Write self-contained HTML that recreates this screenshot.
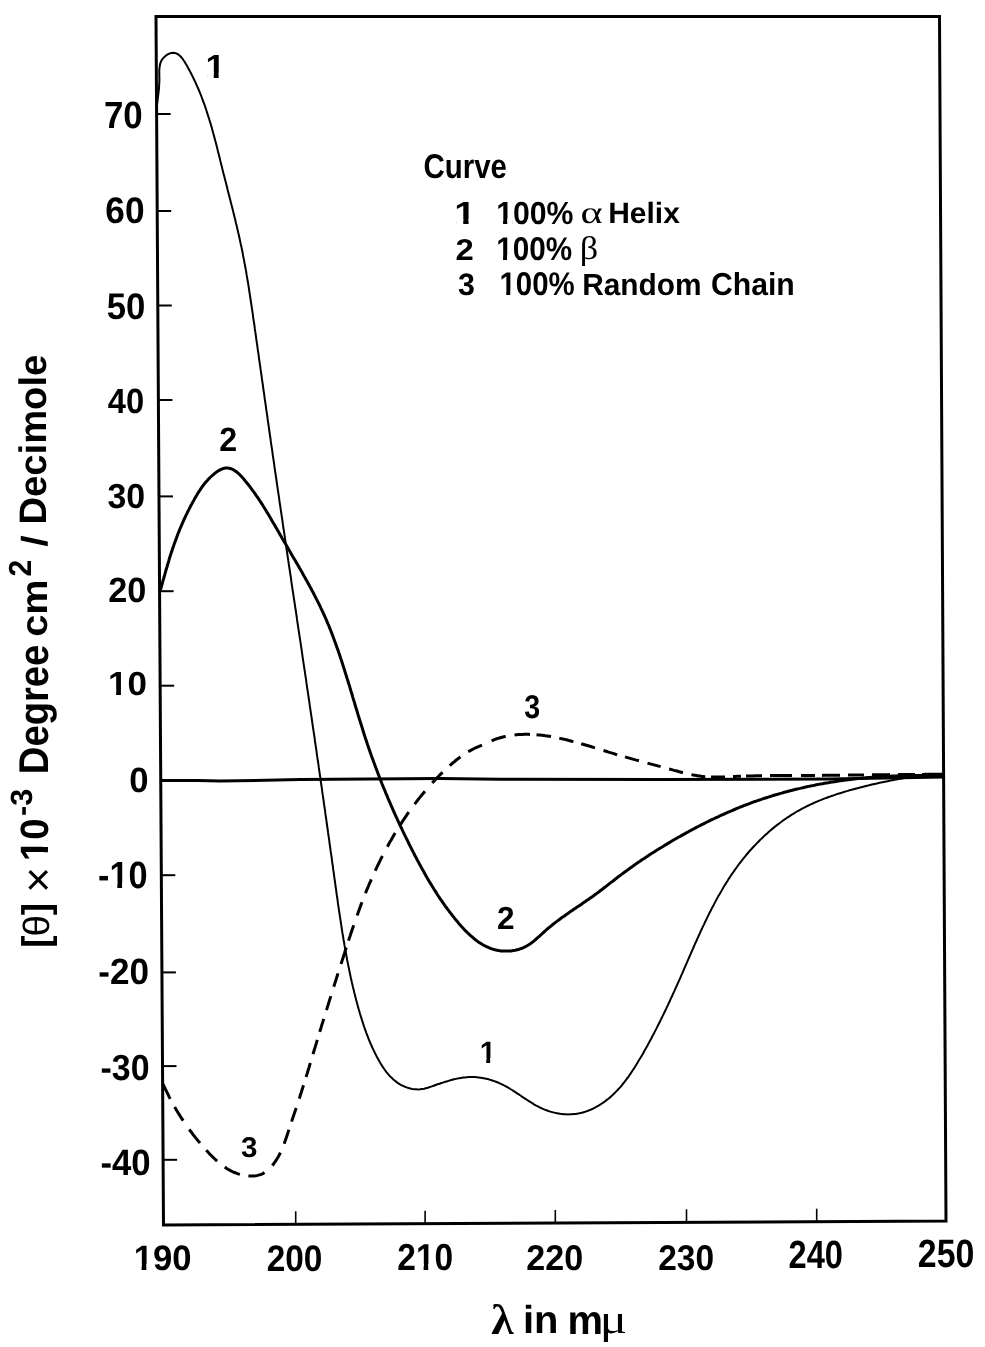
<!DOCTYPE html>
<html><head><meta charset="utf-8"><style>
html,body{margin:0;padding:0;background:#fff;}
svg{display:block;filter:grayscale(1);}
</style></head><body>
<svg style="font-kerning:none;text-rendering:geometricPrecision" width="985" height="1347" viewBox="0 0 985 1347">
<rect width="985" height="1347" fill="#fff"/>
<path d="M156,16.5 L939.5,16.5 L946,1221 L163.5,1225 Z" fill="none" stroke="#000" stroke-width="3" stroke-linejoin="miter"/>
<path d="M160,780.5 L198,780.5 L220,781.1 L300,779.6 L440,778.6 L500,779.3 L660,779.5 L830,779.1 L944,777" fill="none" stroke="#000" stroke-width="3" stroke-linejoin="round"/>
<path d="M156.6,114 L170.6,114" stroke="#000" stroke-width="2"/>
<path d="M157.2,211 L171.2,211" stroke="#000" stroke-width="2"/>
<path d="M157.8,305.5 L171.8,305.5" stroke="#000" stroke-width="2"/>
<path d="M158.4,400 L172.4,400" stroke="#000" stroke-width="2"/>
<path d="M159.0,496.4 L173.0,496.4" stroke="#000" stroke-width="2"/>
<path d="M159.6,591.2 L173.6,591.2" stroke="#000" stroke-width="2"/>
<path d="M160.2,685.7 L174.2,685.7" stroke="#000" stroke-width="2"/>
<path d="M161.3,875.2 L175.3,875.2" stroke="#000" stroke-width="2"/>
<path d="M161.9,972.4 L175.9,972.4" stroke="#000" stroke-width="2"/>
<path d="M162.5,1066.1 L176.5,1066.1" stroke="#000" stroke-width="2"/>
<path d="M163.1,1159.8 L177.1,1159.8" stroke="#000" stroke-width="2"/>
<path d="M295.7,1224.3 L295.7,1211.3" stroke="#000" stroke-width="1.6"/>
<path d="M425.1,1223.7 L425.1,1210.7" stroke="#000" stroke-width="1.6"/>
<path d="M555.3,1223.0 L555.3,1210.0" stroke="#000" stroke-width="1.6"/>
<path d="M686.5,1222.3 L686.5,1209.3" stroke="#000" stroke-width="1.6"/>
<path d="M816.7,1221.7 L816.7,1208.7" stroke="#000" stroke-width="1.6"/>
<path d="M157.1,104.0L157.4,101.9L157.6,99.8L157.9,97.8L158.1,95.9L158.4,93.9L158.6,92.0L158.8,90.1L159.0,88.2L159.1,86.3L159.2,84.3L159.3,82.4L159.4,80.4L159.4,78.3L159.3,76.2L159.3,74.1L159.3,72.0L159.3,69.9L159.5,67.8L159.8,65.7L160.2,63.7L160.9,61.8L161.8,60.0L163.0,58.4L164.4,56.9L166.0,55.5L167.7,54.4L169.4,53.6L171.1,53.0L172.8,52.8L174.4,52.9L176.0,53.3L177.4,53.9L178.8,54.9L180.1,56.0L181.4,57.3L182.6,58.8L183.7,60.5L184.9,62.2L185.9,64.0L187.0,65.8L188.0,67.7L189.0,69.5L190.0,71.4L191.0,73.2L191.9,75.1L192.8,76.9L193.7,78.8L194.6,80.6L195.5,82.5L196.3,84.4L197.2,86.3L198.0,88.1L198.8,90.0L199.6,91.9L200.3,93.7L201.1,95.6L201.8,97.5L202.5,99.4L203.2,101.3L203.9,103.2L204.6,105.0L205.2,106.9L205.9,108.8L206.5,110.7L207.1,112.6L207.7,114.5L208.3,116.4L208.9,118.3L209.5,120.2L210.1,122.1L210.7,124.0L211.2,125.9L211.8,127.8L212.3,129.7L212.8,131.6L213.3,133.5L213.9,135.4L214.4,137.4L214.9,139.3L215.4,141.2L215.9,143.1L216.4,145.0L216.9,146.9L217.4,148.8L217.8,150.8L218.3,152.7L218.8,154.6L219.3,156.5L219.8,158.5L220.2,160.4L220.7,162.3L221.2,164.2L221.7,166.2L222.2,168.1L222.6,170.0L223.1,172.0L223.6,173.9L224.1,175.8L224.6,177.7L225.1,179.7L225.6,181.6L226.1,183.5L226.6,185.5L227.1,187.4L227.5,189.4L228.0,191.3L228.5,193.2L229.0,195.2L229.5,197.1L230.0,199.1L230.5,201.0L231.0,202.9L231.5,204.9L232.0,206.8L232.5,208.8L233.0,210.7L233.5,212.7L233.9,214.6L234.4,216.6L234.9,218.5L235.4,220.5L235.8,222.4L236.3,224.4L236.8,226.3L237.2,228.3L237.7,230.2L238.1,232.2L238.6,234.1L239.0,236.1L239.5,238.0L239.9,240.0L240.3,242.0L240.7,243.9L241.2,245.9L241.6,247.8L242.0,249.8L242.4,251.8L242.8,253.7L243.1,255.7L243.5,257.6L243.9,259.6L244.3,261.6L244.6,263.5L245.0,265.5L245.4,267.5L245.7,269.4L246.1,271.4L246.4,273.4L246.7,275.4L247.1,277.3L247.4,279.3L247.7,281.3L248.1,283.2L248.4,285.2L248.7,287.2L249.0,289.2L249.3,291.1L249.6,293.1L249.9,295.1L250.2,297.0L250.5,299.0L250.8,301.0L251.1,303.0L251.4,304.9L251.7,306.9L252.0,308.9L252.3,310.9L252.6,312.9L252.9,314.8L253.1,316.8L253.4,318.8L253.7,320.8L254.0,322.7L254.3,324.7L254.6,326.7L254.8,328.7L255.1,330.6L255.4,332.6L255.7,334.6L256.0,336.6L256.2,338.6L256.5,340.5L256.8,342.5L257.1,344.5L257.4,346.5L257.6,348.4L257.9,350.4L258.2,352.4L258.5,354.4L258.8,356.4L259.0,358.3L259.3,360.3L259.6,362.3L259.9,364.3L260.2,366.2L260.4,368.2L260.7,370.2L261.0,372.2L261.3,374.2L261.6,376.1L261.8,378.1L262.1,380.1L262.4,382.1L262.7,384.0L263.0,386.0L263.2,388.0L263.5,390.0L263.8,392.0L264.1,393.9L264.4,395.9L264.6,397.9L264.9,399.9L265.2,401.9L265.5,403.8L265.8,405.8L266.0,407.8L266.3,409.8L266.6,411.7L266.9,413.7L267.2,415.7L267.5,417.7L267.7,419.7L268.0,421.6L268.3,423.6L268.6,425.6L268.9,427.6L269.1,429.5L269.4,431.5L269.7,433.5L270.0,435.5L270.3,437.5L270.6,439.4L270.8,441.4L271.1,443.4L271.4,445.4L271.7,447.3L272.0,449.3L272.3,451.3L272.6,453.3L272.8,455.3L273.1,457.2L273.4,459.2L273.7,461.2L274.0,463.2L274.3,465.2L274.5,467.1L274.8,469.1L275.1,471.1L275.4,473.1L275.7,475.0L276.0,477.0L276.3,479.0L276.6,481.0L276.8,483.0L277.1,484.9L277.4,486.9L277.7,488.9L278.0,490.9L278.3,492.8L278.6,494.8L278.9,496.8L279.2,498.8L279.4,500.8L279.7,502.7L280.0,504.7L280.3,506.7L280.6,508.7L280.9,510.7L281.2,512.6L281.5,514.6L281.8,516.6L282.1,518.6L282.4,520.5L282.6,522.5L282.9,524.5L283.2,526.5L283.5,528.5L283.8,530.4L284.1,532.4L284.4,534.4L284.7,536.4L285.0,538.3L285.3,540.3L285.6,542.3L285.9,544.3L286.2,546.3L286.4,548.2L286.7,550.2L287.0,552.2L287.3,554.2L287.6,556.2L287.9,558.1L288.2,560.1L288.5,562.1L288.8,564.1L289.1,566.0L289.4,568.0L289.7,570.0L290.0,572.0L290.3,574.0L290.6,575.9L290.9,577.9L291.2,579.9L291.4,581.9L291.7,583.8L292.0,585.8L292.3,587.8L292.6,589.8L292.9,591.8L293.2,593.7L293.5,595.7L293.8,597.7L294.1,599.7L294.4,601.6L294.7,603.6L295.0,605.6L295.3,607.6L295.6,609.5L295.9,611.5L296.2,613.5L296.5,615.5L296.8,617.5L297.0,619.4L297.3,621.4L297.6,623.4L297.9,625.4L298.2,627.3L298.5,629.3L298.8,631.3L299.1,633.3L299.4,635.3L299.7,637.2L300.0,639.2L300.3,641.2L300.6,643.2L300.9,645.1L301.2,647.1L301.5,649.1L301.8,651.1L302.1,653.0L302.3,655.0L302.6,657.0L302.9,659.0L303.2,660.9L303.5,662.9L303.8,664.9L304.1,666.9L304.4,668.9L304.7,670.8L305.0,672.8L305.3,674.8L305.6,676.8L305.9,678.7L306.2,680.7L306.4,682.7L306.7,684.7L307.0,686.6L307.3,688.6L307.6,690.6L307.9,692.6L308.2,694.5L308.5,696.5L308.8,698.5L309.1,700.5L309.4,702.5L309.6,704.4L309.9,706.4L310.2,708.4L310.5,710.4L310.8,712.3L311.1,714.3L311.4,716.3L311.7,718.3L312.0,720.2L312.2,722.2L312.5,724.2L312.8,726.2L313.1,728.1L313.4,730.1L313.7,732.1L314.0,734.1L314.3,736.0L314.6,738.0L314.8,740.0L315.1,742.0L315.4,743.9L315.7,745.9L316.0,747.9L316.3,749.9L316.6,751.8L316.8,753.8L317.1,755.8L317.4,757.8L317.7,759.8L318.0,761.7L318.3,763.7L318.6,765.7L318.8,767.7L319.1,769.6L319.4,771.6L319.7,773.6L320.0,775.6L320.3,777.5L320.5,779.5L320.8,781.5L321.1,783.5L321.4,785.5L321.7,787.4L322.0,789.4L322.2,791.4L322.5,793.4L322.8,795.3L323.1,797.3L323.4,799.3L323.7,801.3L323.9,803.3L324.2,805.2L324.5,807.2L324.8,809.2L325.1,811.2L325.3,813.1L325.6,815.1L325.9,817.1L326.2,819.1L326.5,821.1L326.7,823.0L327.0,825.0L327.3,827.0L327.6,829.0L327.9,831.0L328.1,832.9L328.4,834.9L328.7,836.9L329.0,838.9L329.3,840.9L329.5,842.8L329.8,844.8L330.1,846.8L330.4,848.8L330.6,850.8L330.9,852.8L331.2,854.7L331.5,856.7L331.8,858.7L332.0,860.7L332.3,862.7L332.6,864.7L332.9,866.6L333.1,868.6L333.4,870.6L333.7,872.6L334.0,874.6L334.2,876.6L334.5,878.6L334.8,880.5L335.1,882.5L335.3,884.5L335.6,886.5L335.9,888.5L336.2,890.5L336.4,892.5L336.7,894.4L337.0,896.4L337.3,898.4L337.6,900.4L337.8,902.4L338.1,904.4L338.4,906.3L338.7,908.3L339.0,910.3L339.3,912.3L339.6,914.3L339.9,916.3L340.2,918.2L340.5,920.2L340.8,922.2L341.1,924.2L341.4,926.2L341.7,928.1L342.0,930.1L342.3,932.1L342.6,934.1L343.0,936.0L343.3,938.0L343.6,940.0L344.0,942.0L344.3,943.9L344.6,945.9L345.0,947.9L345.3,949.8L345.7,951.8L346.0,953.8L346.4,955.7L346.8,957.7L347.1,959.7L347.5,961.6L347.9,963.6L348.3,965.5L348.7,967.5L349.1,969.4L349.5,971.4L349.9,973.3L350.3,975.3L350.7,977.2L351.2,979.2L351.6,981.1L352.0,983.0L352.5,985.0L352.9,986.9L353.4,988.8L353.9,990.8L354.3,992.7L354.8,994.6L355.3,996.6L355.8,998.5L356.3,1000.4L356.8,1002.3L357.3,1004.2L357.8,1006.1L358.4,1008.1L358.9,1010.0L359.5,1011.9L360.0,1013.8L360.6,1015.7L361.2,1017.6L361.8,1019.5L362.4,1021.4L363.0,1023.2L363.6,1025.1L364.2,1027.0L364.9,1028.9L365.6,1030.8L366.2,1032.6L366.9,1034.5L367.7,1036.4L368.4,1038.3L369.1,1040.1L369.9,1042.0L370.7,1043.8L371.5,1045.7L372.3,1047.5L373.2,1049.4L374.1,1051.2L375.0,1053.1L375.9,1054.9L376.8,1056.7L377.8,1058.5L378.8,1060.3L379.8,1062.1L380.9,1063.9L381.9,1065.6L383.1,1067.3L384.2,1069.0L385.4,1070.7L386.6,1072.3L387.9,1073.8L389.2,1075.3L390.5,1076.8L391.9,1078.1L393.4,1079.5L394.9,1080.7L396.4,1081.9L398.0,1083.1L399.6,1084.1L401.3,1085.1L403.0,1085.9L404.8,1086.7L406.6,1087.4L408.5,1088.0L410.4,1088.5L412.3,1088.9L414.3,1089.2L416.2,1089.3L418.2,1089.4L420.1,1089.3L422.1,1089.0L424.1,1088.7L426.0,1088.2L427.9,1087.7L429.9,1087.0L431.8,1086.4L433.7,1085.7L435.6,1085.0L437.6,1084.3L439.5,1083.7L441.5,1083.0L443.4,1082.4L445.4,1081.7L447.3,1081.2L449.3,1080.6L451.2,1080.0L453.2,1079.5L455.1,1079.1L457.1,1078.6L459.0,1078.3L461.0,1077.9L463.0,1077.6L464.9,1077.4L466.9,1077.2L468.9,1077.1L470.9,1077.0L472.8,1077.1L474.8,1077.1L476.8,1077.3L478.7,1077.5L480.7,1077.7L482.6,1078.0L484.6,1078.4L486.5,1078.8L488.5,1079.3L490.4,1079.9L492.3,1080.5L494.2,1081.1L496.0,1081.8L497.9,1082.5L499.7,1083.3L501.5,1084.2L503.3,1085.0L505.1,1086.0L506.9,1086.9L508.6,1087.9L510.3,1089.0L512.1,1090.0L513.8,1091.1L515.4,1092.2L517.1,1093.3L518.8,1094.4L520.5,1095.5L522.1,1096.7L523.8,1097.8L525.5,1098.9L527.2,1100.0L528.9,1101.1L530.6,1102.2L532.3,1103.2L534.0,1104.3L535.7,1105.3L537.5,1106.2L539.2,1107.1L541.0,1108.0L542.8,1108.8L544.7,1109.6L546.5,1110.3L548.4,1111.0L550.3,1111.6L552.2,1112.1L554.2,1112.6L556.1,1113.1L558.1,1113.4L560.1,1113.8L562.0,1114.0L564.0,1114.2L566.0,1114.3L568.0,1114.4L570.0,1114.3L572.0,1114.3L573.9,1114.1L575.9,1113.9L577.9,1113.6L579.8,1113.2L581.8,1112.8L583.7,1112.2L585.6,1111.6L587.5,1111.0L589.4,1110.2L591.2,1109.5L593.1,1108.6L594.9,1107.7L596.7,1106.7L598.5,1105.7L600.2,1104.6L601.9,1103.5L603.6,1102.4L605.2,1101.2L606.8,1099.9L608.4,1098.7L610.0,1097.4L611.5,1096.1L612.9,1094.7L614.4,1093.3L615.8,1091.9L617.2,1090.5L618.5,1089.0L619.9,1087.6L621.2,1086.1L622.4,1084.5L623.7,1083.0L624.9,1081.4L626.1,1079.8L627.3,1078.2L628.5,1076.6L629.6,1075.0L630.7,1073.4L631.8,1071.7L632.9,1070.0L634.0,1068.4L635.1,1066.7L636.1,1065.0L637.2,1063.3L638.2,1061.5L639.2,1059.8L640.3,1058.1L641.3,1056.4L642.3,1054.7L643.3,1052.9L644.2,1051.2L645.2,1049.4L646.2,1047.7L647.2,1046.0L648.1,1044.2L649.1,1042.5L650.0,1040.7L651.0,1039.0L651.9,1037.2L652.8,1035.4L653.8,1033.7L654.7,1031.9L655.6,1030.1L656.5,1028.4L657.4,1026.6L658.3,1024.8L659.2,1023.0L660.1,1021.2L661.0,1019.4L661.8,1017.7L662.7,1015.9L663.6,1014.1L664.5,1012.3L665.3,1010.5L666.2,1008.7L667.0,1006.9L667.9,1005.1L668.7,1003.3L669.6,1001.5L670.4,999.6L671.2,997.8L672.1,996.0L672.9,994.2L673.7,992.4L674.6,990.6L675.4,988.7L676.2,986.9L677.0,985.1L677.8,983.3L678.7,981.4L679.5,979.6L680.3,977.8L681.1,975.9L681.9,974.1L682.7,972.3L683.5,970.4L684.3,968.6L685.1,966.7L685.9,964.9L686.7,963.1L687.5,961.2L688.3,959.4L689.1,957.5L689.9,955.7L690.7,953.8L691.5,952.0L692.3,950.2L693.1,948.3L693.9,946.5L694.7,944.7L695.5,942.8L696.4,941.0L697.2,939.2L698.0,937.3L698.8,935.5L699.7,933.7L700.5,931.8L701.3,930.0L702.2,928.2L703.0,926.4L703.9,924.6L704.7,922.8L705.6,921.0L706.5,919.2L707.3,917.4L708.2,915.6L709.1,913.8L710.0,912.0L710.9,910.2L711.8,908.4L712.7,906.7L713.7,904.9L714.6,903.1L715.5,901.4L716.5,899.6L717.4,897.9L718.4,896.1L719.4,894.4L720.4,892.7L721.4,891.0L722.4,889.2L723.4,887.5L724.4,885.8L725.5,884.1L726.5,882.5L727.6,880.8L728.6,879.1L729.7,877.4L730.8,875.8L731.9,874.1L733.0,872.5L734.2,870.9L735.3,869.2L736.5,867.6L737.6,866.0L738.8,864.4L740.0,862.8L741.2,861.3L742.5,859.7L743.7,858.1L745.0,856.6L746.2,855.0L747.5,853.5L748.8,852.0L750.1,850.5L751.5,849.0L752.8,847.5L754.2,846.0L755.6,844.6L757.0,843.1L758.4,841.7L759.8,840.3L761.2,838.9L762.7,837.5L764.1,836.1L765.6,834.7L767.1,833.4L768.6,832.0L770.1,830.7L771.6,829.4L773.2,828.1L774.7,826.9L776.3,825.6L777.9,824.4L779.5,823.2L781.1,822.0L782.7,820.8L784.3,819.6L786.0,818.5L787.6,817.4L789.3,816.3L791.0,815.2L792.7,814.1L794.4,813.1L796.1,812.0L797.8,811.0L799.6,810.1L801.3,809.1L803.1,808.2L804.8,807.3L806.6,806.4L808.4,805.5L810.2,804.6L812.0,803.8L813.8,803.0L815.7,802.2L817.5,801.4L819.3,800.6L821.2,799.9L823.1,799.1L824.9,798.4L826.8,797.7L828.7,797.0L830.6,796.4L832.4,795.7L834.3,795.1L836.2,794.4L838.1,793.8L840.1,793.2L842.0,792.6L843.9,792.0L845.8,791.4L847.7,790.9L849.6,790.3L851.6,789.8L853.5,789.2L855.4,788.7L857.4,788.2L859.3,787.7L861.2,787.2L863.2,786.7L865.1,786.2L867.1,785.7L869.0,785.3L870.9,784.8L872.9,784.3L874.8,783.9L876.8,783.5L878.7,783.0L880.7,782.6L882.6,782.2L884.6,781.8L886.5,781.4L888.5,781.0L890.5,780.6L892.4,780.2L894.4,779.8L896.3,779.4L898.3,779.1L900.3,778.7L902.2,778.4L904.2,778.0L906.2,777.7L908.1,777.3L910.1,777.0L912.1,776.7L914.1,776.4L916.1,776.1L918.0,775.8L920.0,775.5L922.0,775.3L924.0,775.1L926.0,774.9L928.0,774.8L930.0,774.7L932.0,774.7L934.0,774.7L936.0,774.7L938.0,774.8L940.0,775.0L942.0,775.2L944.0,775.5" fill="none" stroke="#000" stroke-width="2" stroke-linejoin="round"/>
<path d="M160.5,589.9L161.0,588.0L161.5,586.1L162.1,584.2L162.6,582.2L163.1,580.3L163.7,578.4L164.2,576.5L164.8,574.6L165.3,572.7L165.8,570.7L166.4,568.8L167.0,566.9L167.5,565.0L168.1,563.1L168.7,561.2L169.2,559.3L169.8,557.3L170.4,555.4L171.0,553.5L171.7,551.6L172.3,549.7L172.9,547.8L173.6,545.9L174.2,544.1L174.9,542.2L175.6,540.3L176.3,538.4L177.0,536.5L177.7,534.6L178.4,532.8L179.2,530.9L179.9,529.0L180.7,527.2L181.5,525.3L182.3,523.5L183.1,521.7L183.9,519.8L184.8,518.0L185.6,516.2L186.5,514.4L187.3,512.6L188.2,510.8L189.1,509.1L190.0,507.3L190.9,505.5L191.9,503.8L192.8,502.1L193.8,500.4L194.7,498.6L195.7,496.9L196.7,495.3L197.7,493.6L198.7,491.9L199.8,490.3L200.9,488.6L202.0,487.0L203.2,485.4L204.4,483.8L205.7,482.2L207.1,480.7L208.5,479.1L210.1,477.5L211.7,476.0L213.4,474.5L215.1,473.1L216.9,471.8L218.7,470.6L220.6,469.6L222.4,468.8L224.2,468.3L226.0,468.0L227.7,468.0L229.3,468.2L231.0,468.7L232.6,469.3L234.1,470.2L235.6,471.2L237.1,472.3L238.6,473.6L240.0,475.0L241.4,476.4L242.8,477.9L244.1,479.5L245.4,481.1L246.7,482.7L248.0,484.3L249.3,485.9L250.5,487.5L251.7,489.2L252.9,490.8L254.1,492.4L255.3,494.1L256.4,495.8L257.6,497.4L258.7,499.1L259.8,500.8L260.9,502.4L262.0,504.1L263.0,505.8L264.1,507.5L265.2,509.2L266.2,510.9L267.2,512.6L268.3,514.3L269.3,516.0L270.3,517.7L271.3,519.4L272.3,521.2L273.3,522.9L274.3,524.6L275.3,526.3L276.3,528.1L277.3,529.8L278.3,531.5L279.3,533.2L280.3,535.0L281.3,536.7L282.2,538.4L283.2,540.1L284.3,541.9L285.3,543.6L286.3,545.3L287.3,547.0L288.3,548.8L289.3,550.5L290.3,552.2L291.3,553.9L292.3,555.7L293.3,557.4L294.3,559.1L295.3,560.8L296.4,562.6L297.4,564.3L298.4,566.0L299.4,567.8L300.4,569.5L301.4,571.2L302.4,573.0L303.3,574.7L304.3,576.5L305.3,578.2L306.3,580.0L307.3,581.7L308.2,583.5L309.2,585.2L310.1,587.0L311.1,588.7L312.0,590.5L313.0,592.3L313.9,594.0L314.8,595.8L315.7,597.6L316.6,599.4L317.5,601.1L318.4,602.9L319.3,604.7L320.2,606.5L321.0,608.3L321.9,610.1L322.7,611.9L323.5,613.7L324.4,615.5L325.2,617.4L326.0,619.2L326.8,621.0L327.5,622.9L328.3,624.7L329.1,626.5L329.8,628.4L330.6,630.2L331.3,632.1L332.0,633.9L332.7,635.8L333.4,637.7L334.1,639.5L334.8,641.4L335.5,643.3L336.2,645.2L336.8,647.0L337.5,648.9L338.2,650.8L338.8,652.7L339.5,654.6L340.1,656.5L340.7,658.4L341.4,660.3L342.0,662.2L342.6,664.1L343.2,666.0L343.8,667.9L344.4,669.8L345.0,671.7L345.6,673.6L346.2,675.5L346.8,677.5L347.4,679.4L348.0,681.3L348.6,683.2L349.2,685.1L349.8,687.0L350.3,689.0L350.9,690.9L351.5,692.8L352.1,694.7L352.6,696.6L353.2,698.6L353.8,700.5L354.4,702.4L354.9,704.3L355.5,706.2L356.1,708.2L356.7,710.1L357.3,712.0L357.8,713.9L358.4,715.9L359.0,717.8L359.6,719.7L360.2,721.6L360.8,723.5L361.4,725.4L362.0,727.3L362.6,729.3L363.2,731.2L363.8,733.1L364.4,735.0L365.0,736.9L365.6,738.8L366.3,740.7L366.9,742.6L367.5,744.5L368.2,746.4L368.8,748.3L369.5,750.2L370.1,752.1L370.8,753.9L371.4,755.8L372.1,757.7L372.8,759.6L373.5,761.5L374.2,763.3L374.9,765.2L375.6,767.1L376.3,769.0L377.0,770.8L377.7,772.7L378.4,774.6L379.1,776.4L379.8,778.3L380.6,780.1L381.3,782.0L382.0,783.8L382.8,785.7L383.5,787.5L384.3,789.4L385.1,791.2L385.8,793.1L386.6,794.9L387.4,796.7L388.1,798.6L388.9,800.4L389.7,802.2L390.5,804.1L391.3,805.9L392.1,807.7L392.9,809.6L393.7,811.4L394.5,813.2L395.3,815.0L396.2,816.8L397.0,818.6L397.8,820.5L398.7,822.3L399.5,824.1L400.3,825.9L401.2,827.7L402.1,829.5L402.9,831.3L403.8,833.1L404.6,834.9L405.5,836.7L406.4,838.5L407.3,840.2L408.1,842.0L409.0,843.8L409.9,845.6L410.8,847.4L411.7,849.2L412.6,850.9L413.5,852.7L414.4,854.5L415.3,856.3L416.3,858.0L417.2,859.8L418.1,861.6L419.1,863.3L420.0,865.1L421.0,866.8L421.9,868.6L422.9,870.3L423.9,872.1L424.8,873.8L425.8,875.5L426.8,877.3L427.8,879.0L428.8,880.7L429.8,882.4L430.9,884.1L431.9,885.8L433.0,887.5L434.0,889.2L435.1,890.9L436.2,892.6L437.2,894.3L438.3,896.0L439.4,897.6L440.6,899.3L441.7,900.9L442.8,902.6L444.0,904.2L445.1,905.9L446.3,907.5L447.5,909.1L448.7,910.7L449.9,912.3L451.2,913.9L452.4,915.5L453.7,917.1L454.9,918.7L456.2,920.2L457.5,921.8L458.8,923.4L460.2,924.9L461.5,926.4L462.9,927.9L464.2,929.4L465.6,930.9L467.1,932.3L468.5,933.7L470.0,935.1L471.5,936.4L473.0,937.7L474.5,939.0L476.0,940.2L477.6,941.4L479.2,942.5L480.9,943.6L482.5,944.6L484.2,945.5L485.9,946.4L487.7,947.2L489.5,948.0L491.3,948.7L493.1,949.3L495.0,949.8L496.9,950.2L498.9,950.6L500.8,950.9L502.9,951.0L504.9,951.1L507.0,951.1L509.0,951.0L511.1,950.9L513.2,950.6L515.2,950.2L517.2,949.7L519.2,949.2L521.2,948.5L523.0,947.8L524.9,946.9L526.6,946.0L528.3,945.0L530.0,943.9L531.6,942.8L533.2,941.6L534.7,940.3L536.2,939.0L537.7,937.7L539.2,936.4L540.7,935.0L542.2,933.6L543.6,932.3L545.1,931.0L546.6,929.6L548.1,928.3L549.7,927.1L551.2,925.8L552.8,924.5L554.3,923.3L555.9,922.1L557.5,920.9L559.1,919.7L560.7,918.5L562.3,917.3L564.0,916.2L565.6,915.0L567.2,913.9L568.9,912.7L570.5,911.6L572.2,910.5L573.8,909.3L575.5,908.2L577.1,907.1L578.8,906.0L580.4,904.9L582.1,903.7L583.7,902.6L585.4,901.5L587.0,900.3L588.7,899.2L590.3,898.0L591.9,896.9L593.6,895.7L595.2,894.5L596.8,893.4L598.4,892.2L600.0,891.0L601.6,889.8L603.2,888.5L604.8,887.3L606.4,886.1L607.9,884.9L609.5,883.6L611.1,882.4L612.7,881.2L614.3,880.0L615.8,878.7L617.4,877.5L619.0,876.3L620.6,875.1L622.2,873.9L623.8,872.7L625.4,871.5L627.0,870.4L628.6,869.2L630.2,868.0L631.8,866.9L633.5,865.7L635.1,864.6L636.7,863.4L638.3,862.3L640.0,861.2L641.6,860.1L643.3,859.0L644.9,857.9L646.6,856.8L648.2,855.7L649.9,854.6L651.6,853.5L653.2,852.5L654.9,851.4L656.6,850.3L658.3,849.3L660.0,848.2L661.7,847.2L663.4,846.2L665.1,845.1L666.8,844.1L668.5,843.1L670.2,842.1L671.9,841.0L673.6,840.0L675.4,839.0L677.1,838.0L678.8,837.0L680.6,836.1L682.3,835.1L684.1,834.1L685.8,833.1L687.6,832.2L689.3,831.2L691.1,830.3L692.8,829.3L694.6,828.4L696.4,827.4L698.2,826.5L700.0,825.6L701.7,824.7L703.5,823.8L705.3,822.9L707.1,822.0L708.9,821.1L710.7,820.2L712.5,819.3L714.3,818.5L716.1,817.6L718.0,816.8L719.8,815.9L721.6,815.1L723.4,814.3L725.3,813.5L727.1,812.6L728.9,811.8L730.8,811.1L732.6,810.3L734.5,809.5L736.3,808.7L738.2,808.0L740.0,807.2L741.9,806.5L743.8,805.7L745.6,805.0L747.5,804.3L749.4,803.6L751.2,802.9L753.1,802.2L755.0,801.5L756.9,800.9L758.8,800.2L760.7,799.6L762.6,798.9L764.5,798.3L766.4,797.7L768.3,797.1L770.2,796.5L772.1,795.9L774.0,795.3L775.9,794.7L777.8,794.2L779.7,793.6L781.6,793.1L783.6,792.5L785.5,792.0L787.4,791.5L789.3,791.0L791.3,790.5L793.2,790.0L795.1,789.5L797.1,789.0L799.0,788.6L801.0,788.1L802.9,787.7L804.8,787.2L806.8,786.8L808.7,786.4L810.7,786.0L812.7,785.6L814.6,785.2L816.6,784.8L818.5,784.4L820.5,784.0L822.5,783.7L824.4,783.3L826.4,783.0L828.4,782.7L830.3,782.3L832.3,782.0L834.3,781.7L836.2,781.4L838.2,781.1L840.2,780.8L842.2,780.5L844.1,780.3L846.1,780.0L848.1,779.8L850.1,779.5L852.1,779.3L854.1,779.0L856.1,778.8L858.0,778.6L860.0,778.4L862.0,778.2L864.0,778.0L866.0,777.8L868.0,777.6L870.0,777.5L872.0,777.3L874.0,777.1L876.0,777.0L878.0,776.9L880.0,776.7L882.0,776.6L884.0,776.5L886.0,776.4L888.0,776.3L890.0,776.2L892.0,776.1L894.0,776.0L896.0,775.9L898.0,775.8L900.0,775.8L902.0,775.7L904.0,775.7L906.0,775.6L908.0,775.6L910.0,775.6L912.0,775.5L914.0,775.5L916.0,775.5L918.0,775.5L920.0,775.5L922.0,775.5L924.0,775.5L926.0,775.6L928.0,775.6L930.0,775.6L932.0,775.7L934.0,775.7L936.0,775.8L938.0,775.8L940.0,775.9L942.0,776.0L944.0,776.1" fill="none" stroke="#000" stroke-width="3" stroke-linejoin="round"/>
<path d="M163.1,1084.1L163.8,1085.8L164.6,1087.4L165.4,1089.1L166.2,1090.7L167.0,1092.4L167.8,1094.0L168.6,1095.6L169.4,1097.3L170.2,1098.9 M174.7,1107.0L175.7,1108.8L176.7,1110.5L177.8,1112.2L178.8,1113.9L179.8,1115.5L180.9,1117.2L182.0,1118.9L183.1,1120.6 M189.3,1129.4L190.4,1131.0L191.6,1132.5L192.7,1134.1L193.9,1135.6L195.1,1137.1L196.3,1138.6L197.5,1140.1L198.7,1141.6L200.0,1143.1 M206.2,1150.2L207.5,1151.6L208.8,1153.0L210.1,1154.4L211.5,1155.8L212.9,1157.2L214.3,1158.5L215.7,1159.8L217.1,1161.1 M224.8,1167.1L226.4,1168.2L228.0,1169.2L229.6,1170.1L231.2,1171.0L232.9,1171.8L234.6,1172.5L236.3,1173.2L238.1,1173.9L239.9,1174.4 M248.4,1176.0L250.2,1176.1L252.1,1176.1L254.0,1176.0L255.8,1175.8L257.6,1175.4L259.4,1174.9L261.2,1174.3L262.9,1173.6L264.5,1172.6 M272.3,1165.5L273.5,1164.0L274.6,1162.5L275.7,1160.9L276.7,1159.3L277.7,1157.7L278.7,1156.0L279.6,1154.3L280.4,1152.6 M284.2,1143.7L284.8,1142.0L285.4,1140.3L286.0,1138.5L286.6,1136.8L287.2,1135.0L287.8,1133.3L288.3,1131.6L288.9,1129.8 M291.6,1121.7L292.1,1120.0L292.7,1118.3L293.3,1116.6L293.9,1114.8L294.4,1113.1L295.0,1111.4L295.6,1109.7L296.2,1108.0 M299.2,1098.6L299.8,1097.0L300.3,1095.3L300.9,1093.6L301.4,1092.0L301.9,1090.3L302.5,1088.6L303.0,1086.9L303.5,1085.3 M306.1,1077.0L306.6,1075.2L307.2,1073.5L307.7,1071.7L308.2,1070.0L308.8,1068.2L309.3,1066.5L309.8,1064.7L310.4,1063.0 M313.0,1054.1L313.6,1052.3L314.1,1050.5L314.6,1048.8L315.2,1047.0L315.7,1045.2L316.3,1043.4L316.8,1041.6L317.3,1039.8 M319.7,1031.9L320.3,1030.0L320.9,1028.2L321.4,1026.3L322.0,1024.4L322.6,1022.6L323.2,1020.7L323.7,1018.8 M326.5,1010.1L327.0,1008.3L327.5,1006.6L328.1,1004.9L328.6,1003.1L329.2,1001.4L329.7,999.6L330.3,997.9L330.8,996.1 M333.8,986.7L334.4,984.8L335.0,982.9L335.6,981.0L336.2,979.1L336.8,977.2L337.4,975.3L338.0,973.4 M341.0,964.0L341.6,962.2L342.2,960.4L342.8,958.5L343.4,956.7L344.0,954.8L344.6,953.0L345.1,951.1L345.7,949.3L346.3,947.5 M348.6,940.6L349.1,938.9L349.7,937.1L350.3,935.4L350.8,933.7L351.4,932.0L352.0,930.3L352.5,928.6L353.1,926.9L353.7,925.2 M357.1,915.6L357.7,913.9L358.3,912.3L358.9,910.6L359.5,908.9L360.1,907.2L360.7,905.6L361.3,903.9L362.0,902.2 M365.5,893.2L366.2,891.4L366.9,889.7L367.7,888.0L368.4,886.3L369.1,884.5L369.8,882.8L370.6,881.1L371.3,879.4 M375.3,870.7L376.0,869.0L376.8,867.4L377.6,865.7L378.4,864.1L379.2,862.5L380.0,860.8L380.8,859.2L381.6,857.6L382.4,856.0 M387.4,846.7L388.3,845.0L389.2,843.3L390.2,841.6L391.2,839.9L392.1,838.2L393.1,836.5L394.1,834.8L395.1,833.1 M400.4,824.7L401.4,823.1L402.4,821.5L403.5,819.9L404.5,818.4L405.6,816.8L406.7,815.2L407.7,813.7L408.8,812.1 M414.7,804.1L415.8,802.7L416.9,801.2L418.0,799.8L419.1,798.4L420.3,796.9L421.4,795.5L422.6,794.1L423.8,792.7L424.9,791.3 M432.3,783.0L433.5,781.6L434.8,780.3L436.0,778.9L437.3,777.6L438.6,776.3L439.9,774.9L441.2,773.6L442.6,772.3 M449.7,765.7L451.2,764.3L452.7,763.0L454.2,761.8L455.7,760.5L457.3,759.3L458.9,758.0L460.5,756.9 M468.2,751.8L469.9,750.8L471.6,749.9L473.3,749.0L475.0,748.2L476.7,747.4L478.5,746.6L480.3,745.9L482.0,745.2 M491.7,741.0L493.2,740.1L495.0,739.4L496.7,738.8L498.5,738.3L500.3,737.8L502.1,737.3L503.9,736.8L505.7,736.4 M514.5,735.0L516.4,734.8L518.4,734.6L520.3,734.5L522.2,734.4L524.2,734.3L526.1,734.3L528.1,734.3L530.0,734.4 M536.5,734.7L538.3,734.9L540.1,735.1L542.0,735.3L543.8,735.5L545.6,735.8L547.4,736.0L549.2,736.3L551.0,736.6 M559.3,738.2L561.1,738.6L562.9,739.0L564.6,739.4L566.4,739.8L568.2,740.3L569.9,740.7L571.7,741.2L573.4,741.6 M581.2,743.8L582.9,744.3L584.7,744.8L586.4,745.3L588.1,745.8L589.9,746.3L591.6,746.8L593.3,747.4L595.0,747.9 M603.5,750.5L605.2,751.0L606.9,751.5L608.6,752.1L610.3,752.6L612.1,753.1L613.8,753.6L615.5,754.2L617.2,754.7 M625.0,756.9L626.7,757.4L628.5,757.9L630.2,758.4L631.9,758.9L633.7,759.4L635.4,759.9L637.2,760.3L638.9,760.8 M647.5,763.1L649.3,763.6L651.2,764.1L653.1,764.6L654.9,765.1L656.8,765.6L658.7,766.1L660.6,766.6 M669.1,769.0L670.8,769.4L672.5,769.9L674.3,770.4L676.0,770.8L677.7,771.3L679.4,771.8L681.2,772.2L682.9,772.7 M691.5,774.6L693.2,775.0L694.9,775.3L696.6,775.6L698.4,775.9L700.1,776.1L701.8,776.4L703.6,776.6L705.3,776.7 M711.0,777.0L712.7,777.1L714.5,777.1L716.3,777.1L718.0,777.1L719.8,777.0L721.5,777.0L723.3,776.9L725.0,776.9 M733.0,776.5L735.0,776.4L737.0,776.3L739.0,776.3L741.0,776.2 M746.0,776.0L747.8,776.0L749.6,776.0L751.3,775.9L753.1,775.9L754.9,775.8L756.7,775.8L758.5,775.8L760.2,775.7L762.0,775.7 M770.0,775.6L772.0,775.6L774.0,775.6L776.0,775.6L778.0,775.6L780.0,775.6L782.0,775.6L784.0,775.6L786.0,775.5L788.0,775.5L790.0,775.5L792.0,775.5 M801.0,775.5L802.7,775.5L804.5,775.5L806.2,775.5L808.0,775.5L809.7,775.4L811.5,775.4L813.2,775.4L815.0,775.4 M822.0,775.4L823.8,775.3L825.6,775.3L827.4,775.3L829.2,775.3L831.0,775.3L832.8,775.3L834.6,775.2L836.4,775.2L838.2,775.2L840.0,775.2 M848.0,775.1L850.0,775.1L852.0,775.1L854.0,775.0L856.0,775.0L858.0,775.0L860.0,775.0L862.0,774.9L864.0,774.9 M872.0,774.8L873.8,774.8L875.6,774.8L877.4,774.8L879.2,774.8L881.0,774.7L882.8,774.7L884.6,774.7L886.4,774.7L888.2,774.7L890.0,774.6 M898.0,774.6L899.9,774.5L901.8,774.5L903.7,774.5L905.6,774.5L907.4,774.5L909.3,774.5L911.2,774.4L913.1,774.4L915.0,774.4 M922.0,774.4L923.8,774.4L925.7,774.3L927.5,774.3L929.3,774.3L931.2,774.3L933.0,774.3L934.8,774.3L936.7,774.3L938.5,774.3L940.3,774.3L942.2,774.3L944.0,774.3" fill="none" stroke="#000" stroke-width="3" stroke-linecap="butt"/>
<text transform="matrix(0.3491 0 0 0.3785 103.90 127.53)" font-family="'Liberation Sans', sans-serif" font-weight="bold" font-size="100" >70</text>
<text transform="matrix(0.3528 0 0 0.3701 105.31 222.84)" font-family="'Liberation Sans', sans-serif" font-weight="bold" font-size="100" >60</text>
<text transform="matrix(0.3479 0 0 0.3701 106.73 319.24)" font-family="'Liberation Sans', sans-serif" font-weight="bold" font-size="100" >50</text>
<text transform="matrix(0.3267 0 0 0.3503 107.81 412.56)" font-family="'Liberation Sans', sans-serif" font-weight="bold" font-size="100" >40</text>
<text transform="matrix(0.3386 0 0 0.3481 107.52 508.31)" font-family="'Liberation Sans', sans-serif" font-weight="bold" font-size="100" >30</text>
<text transform="matrix(0.3425 0 0 0.3503 108.21 602.06)" font-family="'Liberation Sans', sans-serif" font-weight="bold" font-size="100" >20</text>
<mask id="m1" maskUnits="userSpaceOnUse" x="-50" y="-150" width="2000" height="300"><rect x="-50" y="-150" width="2000" height="300" fill="#fff"/><rect x="4.86" y="-15.21" width="18.08" height="19.21" fill="#000"/><rect x="36.66" y="-15.21" width="17.65" height="19.21" fill="#000"/></mask><text transform="matrix(0.3500 0 0 0.3347 108.11 695.07)" font-family="'Liberation Sans', sans-serif" font-weight="bold" font-size="100" mask="url(#m1)" >10</text>
<text transform="matrix(0.3469 0 0 0.3503 129.13 791.96)" font-family="'Liberation Sans', sans-serif" font-weight="bold" font-size="100" >0</text>
<mask id="m2" maskUnits="userSpaceOnUse" x="-50" y="-150" width="2000" height="300"><rect x="-50" y="-150" width="2000" height="300" fill="#fff"/><rect x="38.16" y="-15.21" width="18.08" height="19.21" fill="#000"/><rect x="69.96" y="-15.21" width="17.65" height="19.21" fill="#000"/></mask><text transform="matrix(0.3428 0 0 0.3785 98.06 888.43)" font-family="'Liberation Sans', sans-serif" font-weight="bold" font-size="100" mask="url(#m2)" >-10</text>
<text transform="matrix(0.3516 0 0 0.3658 98.33 983.94)" font-family="'Liberation Sans', sans-serif" font-weight="bold" font-size="100" >-20</text>
<text transform="matrix(0.3391 0 0 0.3637 100.48 1079.69)" font-family="'Liberation Sans', sans-serif" font-weight="bold" font-size="100" >-30</text>
<text transform="matrix(0.3472 0 0 0.3658 100.44 1174.54)" font-family="'Liberation Sans', sans-serif" font-weight="bold" font-size="100" >-40</text>
<mask id="m3" maskUnits="userSpaceOnUse" x="-50" y="-150" width="2000" height="300"><rect x="-50" y="-150" width="2000" height="300" fill="#fff"/><rect x="4.86" y="-15.21" width="18.08" height="19.21" fill="#000"/><rect x="36.66" y="-15.21" width="17.65" height="19.21" fill="#000"/></mask><text transform="matrix(0.3464 0 0 0.3531 133.63 1269.66)" font-family="'Liberation Sans', sans-serif" font-weight="bold" font-size="100" mask="url(#m3)" >190</text>
<text transform="matrix(0.3340 0 0 0.3701 266.64 1270.54)" font-family="'Liberation Sans', sans-serif" font-weight="bold" font-size="100" >200</text>
<mask id="m4" maskUnits="userSpaceOnUse" x="-50" y="-150" width="2000" height="300"><rect x="-50" y="-150" width="2000" height="300" fill="#fff"/><rect x="60.47" y="-15.21" width="18.08" height="19.21" fill="#000"/><rect x="92.28" y="-15.21" width="17.65" height="19.21" fill="#000"/></mask><text transform="matrix(0.3346 0 0 0.3757 397.34 1269.73)" font-family="'Liberation Sans', sans-serif" font-weight="bold" font-size="100" mask="url(#m4)" >210</text>
<text transform="matrix(0.3409 0 0 0.3573 526.22 1269.65)" font-family="'Liberation Sans', sans-serif" font-weight="bold" font-size="100" >220</text>
<text transform="matrix(0.3346 0 0 0.3566 658.24 1269.60)" font-family="'Liberation Sans', sans-serif" font-weight="bold" font-size="100" >230</text>
<text transform="matrix(0.3265 0 0 0.3927 788.47 1268.42)" font-family="'Liberation Sans', sans-serif" font-weight="bold" font-size="100" >240</text>
<text transform="matrix(0.3390 0 0 0.3955 917.82 1267.21)" font-family="'Liberation Sans', sans-serif" font-weight="bold" font-size="100" >250</text>
<text transform="matrix(0.2946 0 0 0.3432 423.39 177.96)" font-family="'Liberation Sans', sans-serif" font-weight="bold" font-size="100" >Curve</text>
<mask id="m5" maskUnits="userSpaceOnUse" x="-50" y="-150" width="2000" height="300"><rect x="-50" y="-150" width="2000" height="300" fill="#fff"/><rect x="4.86" y="-15.21" width="18.08" height="19.21" fill="#000"/><rect x="36.66" y="-15.21" width="17.65" height="19.21" fill="#000"/></mask><text transform="matrix(0.3871 0 0 0.3198 454.35 223.90)" font-family="'Liberation Sans', sans-serif" font-weight="bold" font-size="100" mask="url(#m5)" >1</text>
<mask id="m6" maskUnits="userSpaceOnUse" x="-50" y="-150" width="2000" height="300"><rect x="-50" y="-150" width="2000" height="300" fill="#fff"/><rect x="4.86" y="-15.21" width="18.08" height="19.21" fill="#000"/><rect x="36.66" y="-15.21" width="17.65" height="19.21" fill="#000"/></mask><text transform="matrix(0.3025 0 0 0.3192 496.13 223.59)" font-family="'Liberation Sans', sans-serif" font-weight="bold" font-size="100" mask="url(#m6)" >100%</text>
<text transform="matrix(0.4208 0 0 0.3157 580.60 223.29)" font-family="'Liberation Serif', serif" font-weight="normal" font-size="100" >α</text>
<text transform="matrix(0.2997 0 0 0.2941 608.20 223.11)" font-family="'Liberation Sans', sans-serif" font-weight="bold" font-size="100" >Helix</text>
<text transform="matrix(0.3282 0 0 0.3022 455.46 259.60)" font-family="'Liberation Sans', sans-serif" font-weight="bold" font-size="100" >2</text>
<mask id="m7" maskUnits="userSpaceOnUse" x="-50" y="-150" width="2000" height="300"><rect x="-50" y="-150" width="2000" height="300" fill="#fff"/><rect x="4.86" y="-15.21" width="18.08" height="19.21" fill="#000"/><rect x="36.66" y="-15.21" width="17.65" height="19.21" fill="#000"/></mask><text transform="matrix(0.2972 0 0 0.3277 496.17 259.88)" font-family="'Liberation Sans', sans-serif" font-weight="bold" font-size="100" mask="url(#m7)" >100%</text>
<text transform="matrix(0.3633 0 0 0.3261 579.86 259.36)" font-family="'Liberation Serif', serif" font-weight="normal" font-size="100" >β</text>
<text transform="matrix(0.3038 0 0 0.3101 457.90 295.15)" font-family="'Liberation Sans', sans-serif" font-weight="bold" font-size="100" >3</text>
<mask id="m8" maskUnits="userSpaceOnUse" x="-50" y="-150" width="2000" height="300"><rect x="-50" y="-150" width="2000" height="300" fill="#fff"/><rect x="4.86" y="-15.21" width="18.08" height="19.21" fill="#000"/><rect x="36.66" y="-15.21" width="17.65" height="19.21" fill="#000"/></mask><text transform="matrix(0.2944 0 0 0.3277 499.49 295.48)" font-family="'Liberation Sans', sans-serif" font-weight="bold" font-size="100" mask="url(#m8)" >100%</text>
<text transform="matrix(0.2984 0 0 0.3050 582.20 295.30)" font-family="'Liberation Sans', sans-serif" font-weight="bold" font-size="100" >Random</text>
<text transform="matrix(0.3017 0 0 0.3173 710.96 295.19)" font-family="'Liberation Sans', sans-serif" font-weight="bold" font-size="100" >Chain</text>
<mask id="m9" maskUnits="userSpaceOnUse" x="-50" y="-150" width="2000" height="300"><rect x="-50" y="-150" width="2000" height="300" fill="#fff"/><rect x="4.86" y="-15.21" width="18.08" height="19.21" fill="#000"/><rect x="36.66" y="-15.21" width="17.65" height="19.21" fill="#000"/></mask><text transform="matrix(0.3573 0 0 0.3358 205.56 77.90)" font-family="'Liberation Sans', sans-serif" font-weight="bold" font-size="100" mask="url(#m9)" >1</text>
<text transform="matrix(0.3219 0 0 0.3380 219.18 451.00)" font-family="'Liberation Sans', sans-serif" font-weight="bold" font-size="100" >2</text>
<text transform="matrix(0.2857 0 0 0.3298 524.14 717.73)" font-family="'Liberation Sans', sans-serif" font-weight="bold" font-size="100" >3</text>
<text transform="matrix(0.3157 0 0 0.3194 497.01 929.20)" font-family="'Liberation Sans', sans-serif" font-weight="bold" font-size="100" >2</text>
<mask id="m10" maskUnits="userSpaceOnUse" x="-50" y="-150" width="2000" height="300"><rect x="-50" y="-150" width="2000" height="300" fill="#fff"/><rect x="4.86" y="-15.21" width="18.08" height="19.21" fill="#000"/><rect x="36.66" y="-15.21" width="17.65" height="19.21" fill="#000"/></mask><text transform="matrix(0.2878 0 0 0.3096 479.63 1062.60)" font-family="'Liberation Sans', sans-serif" font-weight="bold" font-size="100" mask="url(#m10)" >1</text>
<text transform="matrix(0.2957 0 0 0.2861 240.92 1156.88)" font-family="'Liberation Sans', sans-serif" font-weight="bold" font-size="100" >3</text>
<text transform="matrix(0.4560 0 0 0.4275 491.37 1333.90)" font-family="'Liberation Serif', serif" font-weight="bold" font-size="100" >λ</text>
<text transform="matrix(0.3990 0 0 0.3906 522.91 1333.00)" font-family="'Liberation Sans', sans-serif" font-weight="bold" font-size="100" >in</text>
<text transform="matrix(0.3994 0 0 0.4085 567.57 1333.60)" font-family="'Liberation Sans', sans-serif" font-weight="bold" font-size="100" >m</text>
<text transform="matrix(0.5096 0 0 0.4161 599.77 1333.20)" font-family="'Liberation Serif', serif" font-weight="normal" font-size="100" >μ</text>
<text transform="translate(49.09 947.76) rotate(-90) scale(0.3665 0.3862)" font-family="'Liberation Sans', sans-serif" font-weight="bold" font-size="100" >[</text>
<text transform="translate(49.14 936.50) rotate(-90) scale(0.3866 0.3665)" font-family="'Liberation Sans', sans-serif" font-weight="normal" font-size="100" >θ</text>
<text transform="translate(49.09 915.15) rotate(-90) scale(0.3665 0.3862)" font-family="'Liberation Sans', sans-serif" font-weight="bold" font-size="100" >]</text>
<text transform="translate(52.67 892.66) rotate(-90) scale(0.4419 0.4437)" font-family="'Liberation Sans', sans-serif" font-weight="normal" font-size="100" >×</text>
<mask id="m11" maskUnits="userSpaceOnUse" x="-50" y="-150" width="2000" height="300"><rect x="-50" y="-150" width="2000" height="300" fill="#fff"/><rect x="4.86" y="-15.21" width="18.08" height="19.21" fill="#000"/><rect x="36.66" y="-15.21" width="17.65" height="19.21" fill="#000"/></mask><text transform="translate(48.41 861.02) rotate(-90) scale(0.3829 0.3955)" font-family="'Liberation Sans', sans-serif" font-weight="bold" font-size="100" mask="url(#m11)" >10</text>
<text transform="translate(31.85 815.99) rotate(-90) scale(0.3059 0.3073)" font-family="'Liberation Sans', sans-serif" font-weight="bold" font-size="100" >-3</text>
<text transform="translate(47.99 774.15) rotate(-90) scale(0.3818 0.4156)" font-family="'Liberation Sans', sans-serif" font-weight="bold" font-size="100" >Degree</text>
<text transform="translate(46.94 636.85) rotate(-90) scale(0.3965 0.3702)" font-family="'Liberation Sans', sans-serif" font-weight="bold" font-size="100" >cm</text>
<text transform="translate(30.90 576.44) rotate(-90) scale(0.3012 0.3179)" font-family="'Liberation Sans', sans-serif" font-weight="bold" font-size="100" >2</text>
<text transform="translate(46.57 546.80) rotate(-90) scale(0.4142 0.3626)" font-family="'Liberation Sans', sans-serif" font-weight="bold" font-size="100" >/</text>
<text transform="translate(46.43 524.56) rotate(-90) scale(0.3820 0.3826)" font-family="'Liberation Sans', sans-serif" font-weight="bold" font-size="100" >Decimole</text>
</svg>
</body></html>
